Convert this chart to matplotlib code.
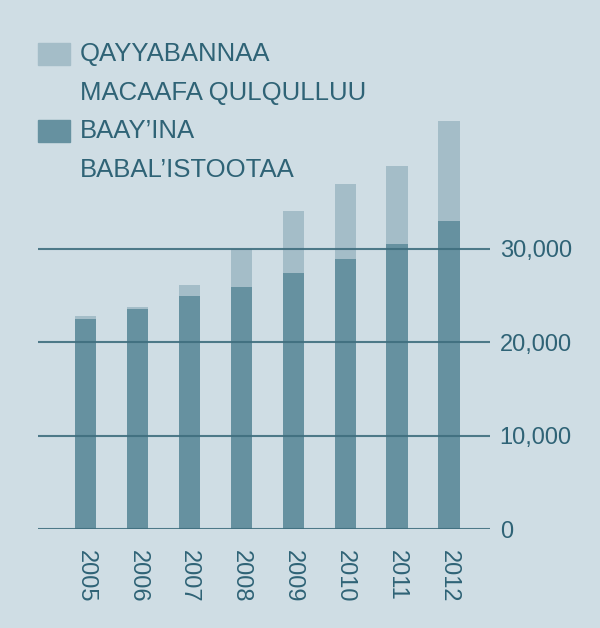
import matplotlib
matplotlib.use("Agg")
import matplotlib.pyplot as plt
from matplotlib.patches import Rectangle

# data
years = ["2005", "2006", "2007", "2008", "2009", "2010", "2011", "2012"]
babal = [22500, 23600, 24900, 25950, 27400, 28900, 30550, 33000]
totals = [22850, 23800, 26130, 30000, 34050, 36950, 38900, 43700]
macaafa = [t - b for t, b in zip(totals, babal)]
y_ticks = [0, 10000, 20000, 30000]
label_light = "QAYYABANNAA\nMACAAFA QULQULLUU"
label_dark = "BAAY\u2019INA\nBABAL\u2019ISTOOTAA"

bg = "#cfdde4"
dark = "#6691a0"
light = "#a4bdc8"
line_col = "#3f6e7e"
text_col = "#2f6376"

plt.rcParams["font.family"] = ["Liberation Sans", "DejaVu Sans"]

fig = plt.figure(figsize=(6.0, 6.28), dpi=100, facecolor=bg)
ax = fig.add_axes([38 / 600, 1 - 529 / 628, 452 / 600, (529 - 108.8) / 628])
ax.set_facecolor(bg)

x = range(len(years))
ax.bar(x, babal, width=0.41, color=dark, zorder=2)
ax.bar(x, macaafa, bottom=babal, width=0.41, color=light, zorder=2)

for v in y_ticks:
    ax.axhline(v, color=line_col, linewidth=1.5, alpha=0.9, zorder=3)

ax.set_xlim(-0.913, 7.788)
ax.set_ylim(0, 45000)
for s in ax.spines.values():
    s.set_visible(False)

ax.yaxis.tick_right()
ax.set_yticks(y_ticks)
ax.set_yticklabels([f"{v:,}" for v in y_ticks])
ax.tick_params(axis="y", length=0, pad=7, labelsize=17, labelcolor=text_col)
ax.set_xticks(list(x))
ax.set_xticklabels(years, rotation=270)
ax.tick_params(axis="x", length=0, pad=15, labelsize=17, labelcolor=text_col)

# legend drawn by hand so the swatch sits on the first line
fig.patches.append(Rectangle((38 / 600, 1 - 65 / 628), 32 / 600, 22 / 628,
                             transform=fig.transFigure, color=light))
fig.patches.append(Rectangle((38 / 600, 1 - 142 / 628), 32 / 600, 22 / 628,
                             transform=fig.transFigure, color=dark))
fig.text(80 / 600, 1 - 42 / 628, label_light, va="top", ha="left",
         fontsize=18.5, color=text_col, linespacing=1.78)
fig.text(80 / 600, 1 - 119 / 628, label_dark, va="top", ha="left",
         fontsize=18.5, color=text_col, linespacing=1.78)

fig.savefig("out.png", dpi=100, facecolor=bg)
